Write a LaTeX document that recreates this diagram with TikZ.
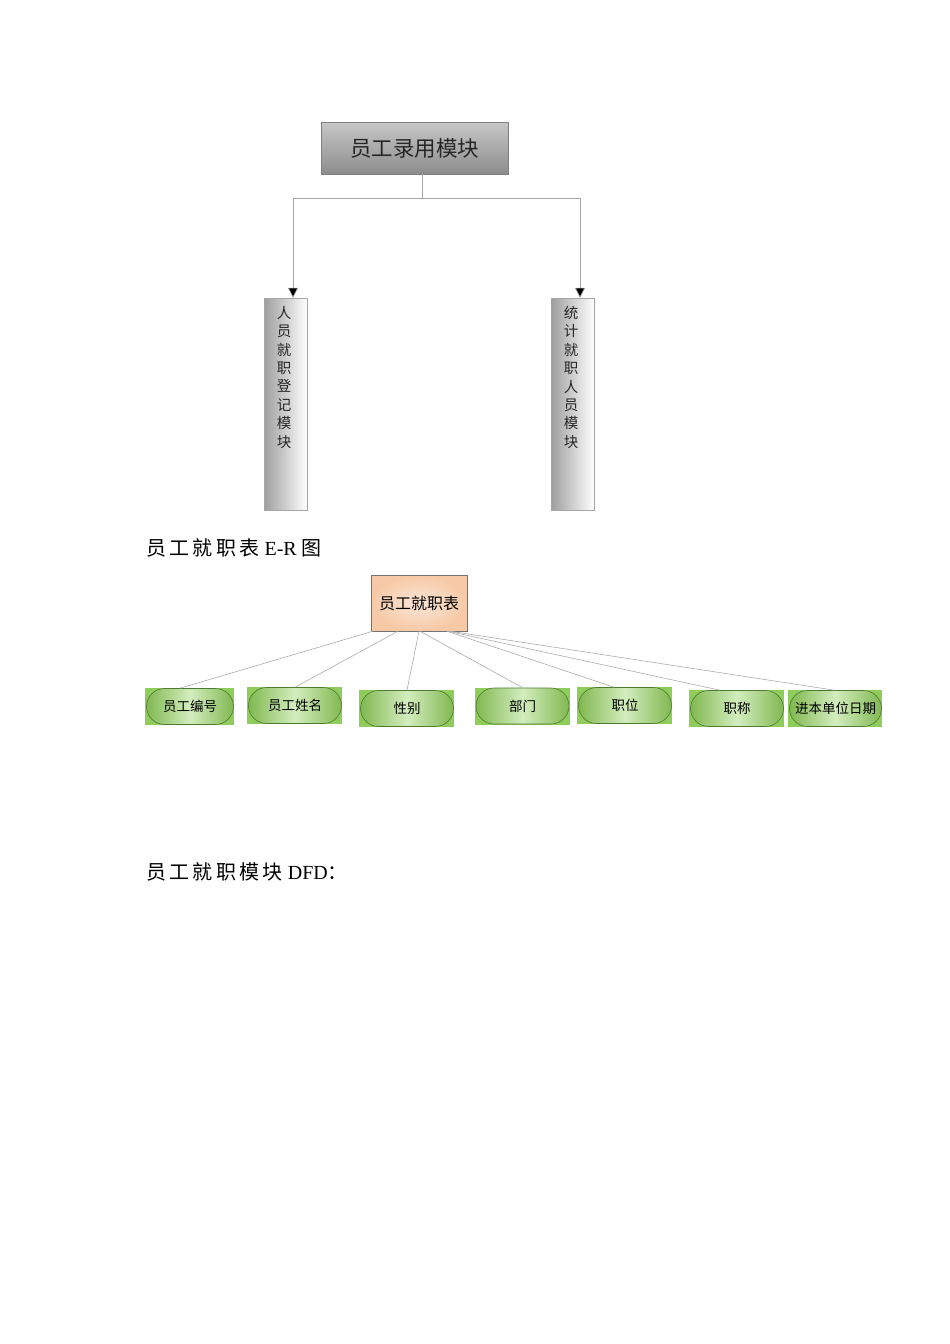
\documentclass[tikz,border=0pt]{standalone}
\usepackage{fontspec}
\newfontfamily\cjk{Noto Sans CJK SC}
\setmainfont{Liberation Serif}
\usetikzlibrary{arrows.meta,shapes.misc}
\definecolor{gborder}{HTML}{808080}
\definecolor{peach}{HTML}{F7C9A6}
\definecolor{peachlight}{HTML}{FBE6D6}
\definecolor{gfill}{HTML}{8FCD5A}
\definecolor{glight}{HTML}{D3EDBE}
\definecolor{gdark}{HTML}{4E7A33}
\tikzset{
  topbox/.style={draw=gborder, top color=black!22, bottom color=black!45, minimum width=187pt, minimum height=52pt, inner sep=0pt, font=\cjk\fontsize{21.5}{22}\selectfont, text=black!85},
  vbox/.style={draw=black!35, left color=black!38, right color=white, minimum width=43pt, minimum height=212pt, inner sep=0pt},
  vtext/.style={font=\cjk\fontsize{14.5}{18.4}\selectfont, align=center, text=black!85, inner sep=0pt, anchor=north},
  conn/.style={draw=black!35, line width=0.6pt},
  arr/.style={conn, -{Triangle[length=10pt,width=10pt,fill=black]}},
  erbox/.style={draw=black!55, inner color=peachlight, outer color=peach, minimum width=96pt, minimum height=56pt, inner sep=0pt, font=\cjk\fontsize{16}{16}\selectfont},
  erline/.style={draw=black!32, line width=0.6pt},
  gbg/.style={fill=gfill, draw=none, minimum width=95pt, minimum height=37pt, inner sep=0pt},
  gpill/.style={rounded rectangle, draw=gdark, line width=0.6pt, left color=gfill!90!black, right color=gfill!90!black, middle color=glight, minimum width=93pt, minimum height=36pt, inner sep=0pt, font=\cjk\fontsize{13.5}{14}\selectfont},
  heading/.style={anchor=west, inner sep=0pt, font=\fontsize{20}{20}\selectfont},
}
\begin{document}
\begin{tikzpicture}[x=1pt,y=-1pt]
\useasboundingbox (0,0) rectangle (950,1344);
\fill[white] (0,0) rectangle (950,1344);

% --- module tree ---
\node[topbox] (top) at (414.5,148) {员工录用模块};
\node[vbox] (left) at (285.5,404) {};
\node[vbox] (right) at (572.5,404) {};
\node[vtext] (ltxt) at (284,306) {人\\员\\就\\职\\登\\记\\模\\块};
\node[vtext] (rtxt) at (571,306) {统\\计\\就\\职\\人\\员\\模\\块};
\coordinate (j) at (422,198);
\coordinate (jl) at (293,198);
\coordinate (jr) at (580,198);
\draw[conn] (top.south -| j) -- (j);
\draw[conn] (jl) -- (jr);
\draw[arr] (jl) -- (jl |- left.north);
\draw[arr] (jr) -- (jr |- right.north);

% --- ER heading ---
\node[heading] (h1) at (146,548) {{\cjk 员\,工\,就\,职\,表} E-R {\cjk 图}};

% --- ER diagram ---
\node[erbox] (er) at (419,603) {员工就职表};

\node[gbg, minimum width=89pt] (b1) at (189.5,706.5) {};
\node[gpill, minimum width=87pt] (a1) at (190,706.5) {员工编号};
\node[gbg] (b2) at (294.5,705.5) {};
\node[gpill] (a2) at (295,705.5) {员工姓名};
\node[gbg] (b3) at (406.5,708.5) {};
\node[gpill] (a3) at (407,708.5) {性别};
\node[gbg] (b4) at (522,706) {};
\node[gpill] (a4) at (522.5,706) {部门};
\node[gbg] (b5) at (624.5,705.5) {};
\node[gpill] (a5) at (625,705.5) {职位};
\node[gbg] (b6) at (736.5,708.5) {};
\node[gpill] (a6) at (737,708.5) {职称};
\node[gbg, minimum width=94pt] (b7) at (835,708.5) {};
\node[gpill, minimum width=92pt] (a7) at (835.5,708.5) {进本单位日期};

\draw[erline] ([xshift=-46pt]er.south) -- ([xshift=-10pt]a1.north);
\draw[erline] ([xshift=-21pt]er.south) -- (a2.north);
\draw[erline] ([xshift=0pt]er.south) -- (a3.north);
\draw[erline] ([xshift=1pt]er.south) -- (a4.north);
\draw[erline] ([xshift=28pt]er.south) -- ([xshift=-11pt]a5.north);
\draw[erline] ([xshift=29pt]er.south) -- ([xshift=-17pt]a6.north);
\draw[erline] ([xshift=31pt]er.south) -- ([xshift=-1pt]a7.north);

% --- DFD heading ---
\node[heading] (h2) at (146,872) {{\cjk 员\,工\,就\,职\,模\,块} DFD{\cjk ：}};
\end{tikzpicture}
\end{document}
